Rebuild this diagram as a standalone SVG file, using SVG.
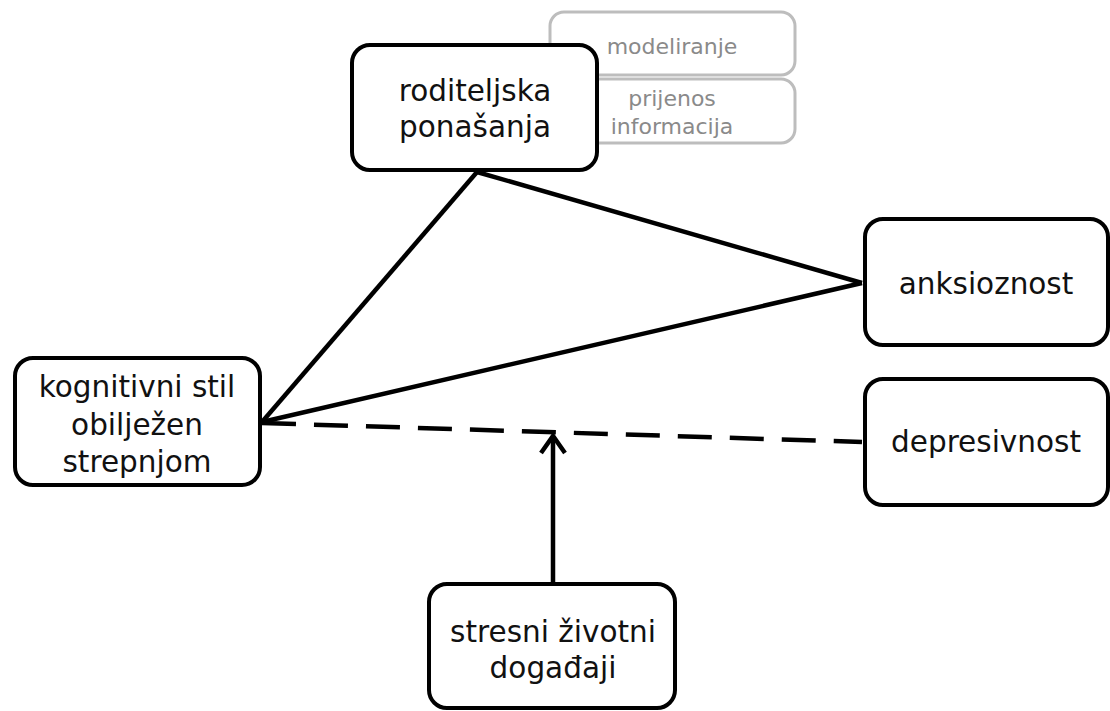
<svg xmlns="http://www.w3.org/2000/svg" width="1110" height="711" viewBox="0 0 1110 711">
<style>
.n{fill:#fff;stroke:#000;stroke-width:4}
.g{fill:#fff;stroke:#bdbdbd;stroke-width:3}
.t{font-family:"DejaVu Sans",sans-serif;font-size:29.5px;fill:#111;text-anchor:middle}
.gt{font-family:"DejaVu Sans",sans-serif;font-size:22px;fill:#8a8a8a;text-anchor:middle}
.c{stroke:#000;stroke-width:4.5;fill:none}
</style>
<rect width="1110" height="711" fill="#fff"/>
<g id="modeliranje"><rect class="g" x="550" y="12" width="245" height="63" rx="14"/><text class="gt" x="672" y="54">modeliranje</text></g>
<g id="prijenos"><rect class="g" x="550" y="79" width="245" height="64" rx="14"/><text class="gt" x="672" y="106">prijenos</text><text class="gt" x="672" y="134">informacija</text></g>
<g id="roditeljska"><rect class="n" x="352" y="45" width="245" height="125" rx="18"/><text class="t" x="475" y="101">roditeljska</text><text class="t" x="475" y="137">ponašanja</text></g>
<g id="connectors">
<line class="c" x1="477" y1="172" x2="262" y2="422"/>
<line class="c" x1="477" y1="172" x2="862" y2="283"/>
<line class="c" x1="262" y1="422" x2="862" y2="283"/>
<line class="c" x1="262" y1="423" x2="862" y2="442" stroke-dasharray="34,18"/>
<line class="c" x1="553" y1="583" x2="553" y2="436"/>
<polyline class="c" points="541,453 553,436 565,453"/>
</g>
<g id="kognitivni"><rect class="n" x="15" y="358" width="245" height="127" rx="18"/><text class="t" x="137" y="397">kognitivni stil</text><text class="t" x="137" y="435">obilježen</text><text class="t" x="137" y="472">strepnjom</text></g>
<g id="anksioznost"><rect class="n" x="865" y="219" width="243" height="126" rx="18"/><text class="t" x="986" y="294">anksioznost</text></g>
<g id="depresivnost"><rect class="n" x="865" y="379" width="243" height="126" rx="18"/><text class="t" x="986" y="452">depresivnost</text></g>
<g id="stresni"><rect class="n" x="429" y="584" width="246" height="124" rx="18"/><text class="t" x="553" y="642">stresni životni</text><text class="t" x="553" y="678">događaji</text></g>
</svg>
